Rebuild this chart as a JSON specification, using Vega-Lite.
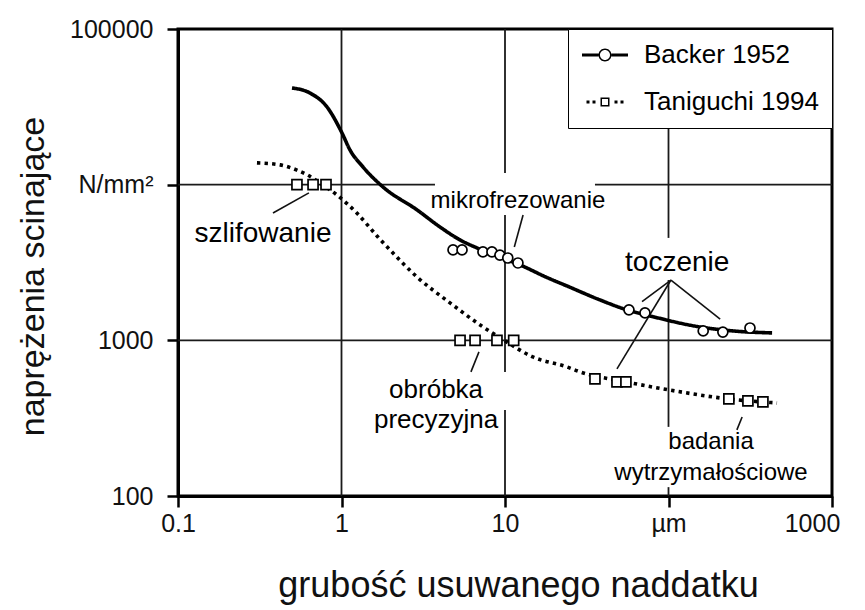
{
  "$schema": "https://vega.github.io/schema/vega-lite/v6.json",
  "width": 654,
  "height": 467,
  "autosize": {"type": "none"},
  "padding": {"left": 178, "top": 29, "right": 33, "bottom": 114},
  "background": "white",
  "config": {
    "font": "Liberation Sans",
    "view": {"stroke": "black", "strokeWidth": 3}
  },
  "datasets": {
    "curves": [
      {"series": "Backer 1952", "x": 0.498, "y": 41800},
      {"series": "Backer 1952", "x": 0.641, "y": 38800},
      {"series": "Backer 1952", "x": 0.815, "y": 31570},
      {"series": "Backer 1952", "x": 1.007, "y": 21480},
      {"series": "Backer 1952", "x": 1.127, "y": 16710},
      {"series": "Backer 1952", "x": 1.354, "y": 12990},
      {"series": "Backer 1952", "x": 1.794, "y": 9665},
      {"series": "Backer 1952", "x": 2.9, "y": 6880},
      {"series": "Backer 1952", "x": 4.0, "y": 5350},
      {"series": "Backer 1952", "x": 5.31, "y": 4415},
      {"series": "Backer 1952", "x": 6.74, "y": 3922},
      {"series": "Backer 1952", "x": 9.32, "y": 3432},
      {"series": "Backer 1952", "x": 12.35, "y": 3051},
      {"series": "Backer 1952", "x": 18.3, "y": 2517},
      {"series": "Backer 1952", "x": 23.9, "y": 2236},
      {"series": "Backer 1952", "x": 38.1, "y": 1818},
      {"series": "Backer 1952", "x": 55.8, "y": 1568},
      {"series": "Backer 1952", "x": 77.1, "y": 1434},
      {"series": "Backer 1952", "x": 155.9, "y": 1219},
      {"series": "Backer 1952", "x": 248, "y": 1149},
      {"series": "Backer 1952", "x": 430, "y": 1116},
      {"series": "Taniguchi 1994", "x": 0.304, "y": 13800},
      {"series": "Taniguchi 1994", "x": 0.421, "y": 13400},
      {"series": "Taniguchi 1994", "x": 0.534, "y": 12400},
      {"series": "Taniguchi 1994", "x": 0.624, "y": 11500},
      {"series": "Taniguchi 1994", "x": 0.771, "y": 9960},
      {"series": "Taniguchi 1994", "x": 0.938, "y": 8590},
      {"series": "Taniguchi 1994", "x": 1.24, "y": 6580},
      {"series": "Taniguchi 1994", "x": 1.67, "y": 4610},
      {"series": "Taniguchi 1994", "x": 1.98, "y": 3810},
      {"series": "Taniguchi 1994", "x": 2.9, "y": 2550},
      {"series": "Taniguchi 1994", "x": 4.61, "y": 1740},
      {"series": "Taniguchi 1994", "x": 7.33, "y": 1220},
      {"series": "Taniguchi 1994", "x": 9.73, "y": 1010},
      {"series": "Taniguchi 1994", "x": 14.8, "y": 782},
      {"series": "Taniguchi 1994", "x": 23.9, "y": 675},
      {"series": "Taniguchi 1994", "x": 28.8, "y": 627},
      {"series": "Taniguchi 1994", "x": 54.9, "y": 541},
      {"series": "Taniguchi 1994", "x": 101, "y": 480},
      {"series": "Taniguchi 1994", "x": 234, "y": 420},
      {"series": "Taniguchi 1994", "x": 461, "y": 396}
    ],
    "points": [
      {"series": "Backer 1952", "x": 4.81, "y": 3810},
      {"series": "Backer 1952", "x": 5.46, "y": 3810},
      {"series": "Backer 1952", "x": 7.33, "y": 3700},
      {"series": "Backer 1952", "x": 8.32, "y": 3700},
      {"series": "Backer 1952", "x": 9.31, "y": 3530},
      {"series": "Backer 1952", "x": 10.4, "y": 3380},
      {"series": "Backer 1952", "x": 12.0, "y": 3140},
      {"series": "Backer 1952", "x": 57.3, "y": 1570},
      {"series": "Backer 1952", "x": 71.8, "y": 1500},
      {"series": "Backer 1952", "x": 163, "y": 1150},
      {"series": "Backer 1952", "x": 215, "y": 1130},
      {"series": "Backer 1952", "x": 315, "y": 1200},
      {"series": "Taniguchi 1994", "x": 0.534, "y": 10000},
      {"series": "Taniguchi 1994", "x": 0.67, "y": 10000},
      {"series": "Taniguchi 1994", "x": 0.804, "y": 10000},
      {"series": "Taniguchi 1994", "x": 5.31, "y": 1000},
      {"series": "Taniguchi 1994", "x": 6.56, "y": 1000},
      {"series": "Taniguchi 1994", "x": 8.93, "y": 1000},
      {"series": "Taniguchi 1994", "x": 11.3, "y": 1000},
      {"series": "Taniguchi 1994", "x": 35.5, "y": 565},
      {"series": "Taniguchi 1994", "x": 48.4, "y": 541},
      {"series": "Taniguchi 1994", "x": 54.9, "y": 541},
      {"series": "Taniguchi 1994", "x": 234, "y": 421},
      {"series": "Taniguchi 1994", "x": 306, "y": 408},
      {"series": "Taniguchi 1994", "x": 378, "y": 402}
    ],
    "grid": [
      {"x": 1, "y": 100, "x2": 1, "y2": 100000},
      {"x": 10, "y": 11900, "x2": 10, "y2": 100000},
      {"x": 10, "y": 627, "x2": 10, "y2": 6380},
      {"x": 10, "y": 100, "x2": 10, "y2": 357},
      {"x": 100, "y": 4550, "x2": 100, "y2": 23800},
      {"x": 100, "y": 278, "x2": 100, "y2": 2440},
      {"x": 100, "y": 100, "x2": 100, "y2": 114},
      {"x": 0.1, "y": 10000, "x2": 3.73, "y2": 10000},
      {"x": 35.5, "y": 10000, "x2": 1000, "y2": 10000},
      {"x": 0.1, "y": 1000, "x2": 1000, "y2": 1000}
    ],
    "leaders": [
      {"x": 0.632, "y": 8860, "x2": 0.381, "y2": 6580},
      {"x": 12.9, "y": 6380, "x2": 11.4, "y2": 3980},
      {"x": 6.93, "y": 843, "x2": 6.19, "y2": 627},
      {"x": 103.5, "y": 2440, "x2": 68.9, "y2": 1770},
      {"x": 103.5, "y": 2440, "x2": 48.4, "y2": 655},
      {"x": 103.5, "y": 2440, "x2": 207, "y2": 1370},
      {"x": 282, "y": 322, "x2": 262, "y2": 266}
    ]
  },
  "encoding": {
    "x": {
      "field": "x",
      "type": "quantitative",
      "scale": {"type": "log", "domain": [0.1, 1000], "nice": false},
      "axis": {
        "values": [0.1, 1, 10, 100, 1000],
        "format": "~g",
        "labelExpr": "datum.value == 100 ? 'µm' : datum.label",
        "grid": false,
        "domainColor": "black",
        "domainWidth": 3,
        "tickColor": "black",
        "tickWidth": 2.5,
        "tickSize": 11,
        "labelFontSize": 25,
        "labelColor": "#111111",
        "labelPadding": 4,
        "labelFlush": false,
        "labelOverlap": false,
        "labelOffset": {"condition": {"test": "datum.value == 1000", "value": -20}, "value": 0},
        "title": "grubość usuwanego naddatku",
        "titleFontSize": 36,
        "titleFontWeight": "normal",
        "titleColor": "#111111",
        "titleX": 340,
        "titleY": 100,
        "titleBaseline": "alphabetic",
        "titleAlign": "center"
      }
    },
    "y": {
      "field": "y",
      "type": "quantitative",
      "scale": {"type": "log", "domain": [100, 100000], "nice": false},
      "axis": {
        "values": [100, 1000, 10000, 100000],
        "format": "~g",
        "labelExpr": "datum.value == 10000 ? 'N/mm²' : datum.label",
        "grid": false,
        "domainColor": "black",
        "domainWidth": 3,
        "tickColor": "black",
        "tickWidth": 2.5,
        "tickSize": 11,
        "labelFontSize": 25,
        "labelColor": "#111111",
        "labelPadding": 14,
        "labelOverlap": false,
        "title": "naprężenia scinające",
        "titleFontSize": 34,
        "titleFontWeight": "normal",
        "titleColor": "#111111",
        "titleX": -135,
        "titleY": 247,
        "titleAngle": 270,
        "titleBaseline": "alphabetic",
        "titleAlign": "center"
      }
    }
  },
  "layer": [
    {
      "data": {"name": "grid"},
      "mark": {"type": "rule", "color": "#1a1a1a", "strokeWidth": 1.8},
      "encoding": {"x2": {"field": "x2"}, "y2": {"field": "y2"}}
    },
    {
      "data": {"name": "curves"},
      "mark": {"type": "line", "color": "black", "strokeWidth": 3.6, "interpolate": "monotone", "strokeCap": "butt"},
      "encoding": {
        "strokeDash": {
          "field": "series",
          "type": "nominal",
          "scale": {"domain": ["Backer 1952", "Taniguchi 1994"], "range": [[1, 0], [3.4, 4.2]]},
          "legend": null
        }
      }
    },
    {
      "data": {"name": "leaders"},
      "mark": {"type": "rule", "color": "#111111", "strokeWidth": 1.6},
      "encoding": {"x2": {"field": "x2"}, "y2": {"field": "y2"}}
    },
    {
      "data": {"name": "points"},
      "mark": {"type": "point", "fill": "white", "stroke": "black", "strokeWidth": 1.7, "opacity": 1, "size": 100},
      "encoding": {
        "shape": {
          "field": "series",
          "type": "nominal",
          "scale": {"domain": ["Backer 1952", "Taniguchi 1994"], "range": ["circle", "square"]},
          "legend": null
        }
      }
    },
    {
      "data": {"name": "curves"},
      "mark": {"type": "point", "filled": true, "color": "black", "opacity": 0},
      "encoding": {
        "shape": {
          "field": "series",
          "type": "nominal",
          "scale": {
            "domain": ["Backer 1952", "Taniguchi 1994"],
            "range": [
              "M-1.2,-0.15H0.45V0.15H-1.2Z M1.75,-0.15H3.4V0.15H1.75Z M0.45,0A0.65,0.65 0 1,1 1.75,0A0.65,0.65 0 1,1 0.45,0Z M0.6,0A0.5,0.5 0 1,0 1.6,0A0.5,0.5 0 1,0 0.6,0Z",
              "M-0.75,-0.15H-0.45V0.15H-0.75Z M-0.15,-0.15H0.15V0.15H-0.15Z M2.05,-0.15H2.35V0.15H2.05Z M2.65,-0.15H2.95V0.15H2.65Z M0.65,-0.45H1.55V0.45H0.65Z M0.8,-0.3V0.3H1.4V-0.3Z"
            ]
          },
          "legend": {
            "title": null,
            "orient": "top-right",
            "offset": 0,
            "fillColor": "white",
            "strokeColor": "black",
            "padding": 13,
            "symbolSize": 400,
            "symbolFillColor": "black",
            "symbolStrokeWidth": 0,
            "symbolOpacity": 1,
            "labelFontSize": 26,
            "labelColor": "black",
            "labelOffset": 37,
            "labelLimit": 400,
            "rowPadding": 21,
            "encode": {"legend": {"update": {"strokeWidth": {"value": 2.5}}}}
          }
        }
      }
    },
    {
      "data": {"values": [
        {"x": 0.331, "y": 4285, "label": "szlifowanie"},
        {"x": 113, "y": 2790, "label": "toczenie"}
      ]},
      "mark": {"type": "text", "fontSize": 28, "align": "center", "baseline": "alphabetic", "color": "black"},
      "encoding": {"text": {"field": "label"}}
    },
    {
      "data": {"values": [
        {"x": 12.0, "y": 7080, "label": "mikrofrezowanie"},
        {"x": 182, "y": 200, "label": "badania\nwytrzymałościowe"}
      ]},
      "mark": {"type": "text", "fontSize": 24, "align": "center", "baseline": "alphabetic", "color": "black", "lineBreak": "\n", "lineHeight": 31},
      "encoding": {"text": {"field": "label"}}
    },
    {
      "data": {"values": [
        {"x": 3.79, "y": 426, "label": "obróbka\nprecyzyjna"}
      ]},
      "mark": {"type": "text", "fontSize": 26, "align": "center", "baseline": "alphabetic", "color": "black", "lineBreak": "\n", "lineHeight": 30},
      "encoding": {"text": {"field": "label"}}
    }
  ],
  "resolve": {"scale": {"shape": "independent"}, "legend": {"shape": "independent"}}
}
